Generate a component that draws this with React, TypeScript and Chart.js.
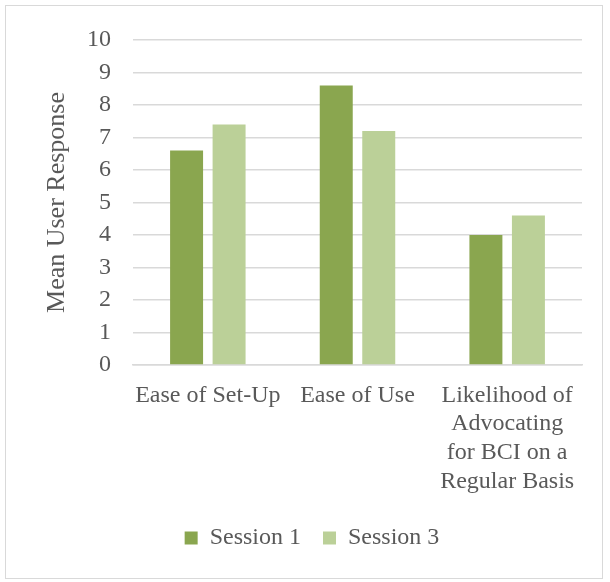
import React, { useEffect, useRef } from "react";
import { Chart, registerables } from "chart.js";

Chart.register(...registerables);

const categories: string[][] = [
  ["Ease of Set-Up"],
  ["Ease of Use"],
  ["Likelihood of", "Advocating", "for BCI on a", "Regular Basis"],
];
const seriesNames = ["Session 1", "Session 3"];
const session1 = [6.6, 8.6, 4.0];
const session3 = [7.4, 7.2, 4.6];
const yMin = 0;
const yMax = 10;
const yStep = 1;
const axisTitle = "Mean User Response";

const FONT = "'Liberation Serif', 'Times New Roman', serif";
const TEXT = "#595959";

export default function App() {
  const ref = useRef<HTMLCanvasElement | null>(null);
  useEffect(() => {
    if (!ref.current) return;
    const chart = new Chart(ref.current, {
      type: "bar",
      data: {
        labels: categories,
        datasets: [
          {
            label: seriesNames[0],
            data: session1,
            backgroundColor: "#8AA64F",
            categoryPercentage: 0.568,
            barPercentage: 0.776,
          },
          {
            label: seriesNames[1],
            data: session3,
            backgroundColor: "#BBD098",
            categoryPercentage: 0.568,
            barPercentage: 0.776,
          },
        ],
      },
      options: {
        animation: false,
        responsive: false,
        maintainAspectRatio: false,
        layout: { padding: { left: 42, right: 28, top: 40, bottom: 22 } },
        plugins: {
          tooltip: { enabled: false },
          legend: {
            position: "bottom",
            labels: {
              color: TEXT,
              font: { family: FONT, size: 24 },
              boxWidth: 13,
              boxHeight: 13,
              padding: 22,
            },
          },
        },
        scales: {
          x: {
            grid: { display: false, drawTicks: false },
            border: { display: true, color: "#D9D9D9", width: 1.5 },
            ticks: {
              color: TEXT,
              font: { family: FONT, size: 24, lineHeight: 1.2 },
              padding: 16,
              maxRotation: 0,
              autoSkip: false,
            },
            afterFit: (s: any) => {
              s.height = 139;
            },
          },
          y: {
            min: yMin,
            max: yMax,
            grid: { color: "#D9D9D9", lineWidth: 1.5, drawTicks: false },
            border: { display: false },
            ticks: {
              stepSize: yStep,
              color: TEXT,
              font: { family: FONT, size: 24 },
              padding: 22,
            },
            title: {
              display: true,
              text: axisTitle,
              color: TEXT,
              font: { family: FONT, size: 26 },
              padding: { top: 0, bottom: 10 },
            },
            afterFit: (s: any) => {
              s.width = 91;
            },
          },
        },
      },
    });
    return () => chart.destroy();
  }, []);

  return (
    <div style={{ position: "fixed", left: 0, top: 0, width: 610, height: 582, background: "#fff" }}>
      <div
        style={{
          position: "absolute",
          left: 5,
          top: 5,
          width: 598,
          height: 574,
          border: "1.5px solid #D9D9D9",
          boxSizing: "border-box",
        }}
      />
      <canvas ref={ref} width={610} height={582} style={{ position: "absolute", left: 0, top: 0 }} />
    </div>
  );
}
